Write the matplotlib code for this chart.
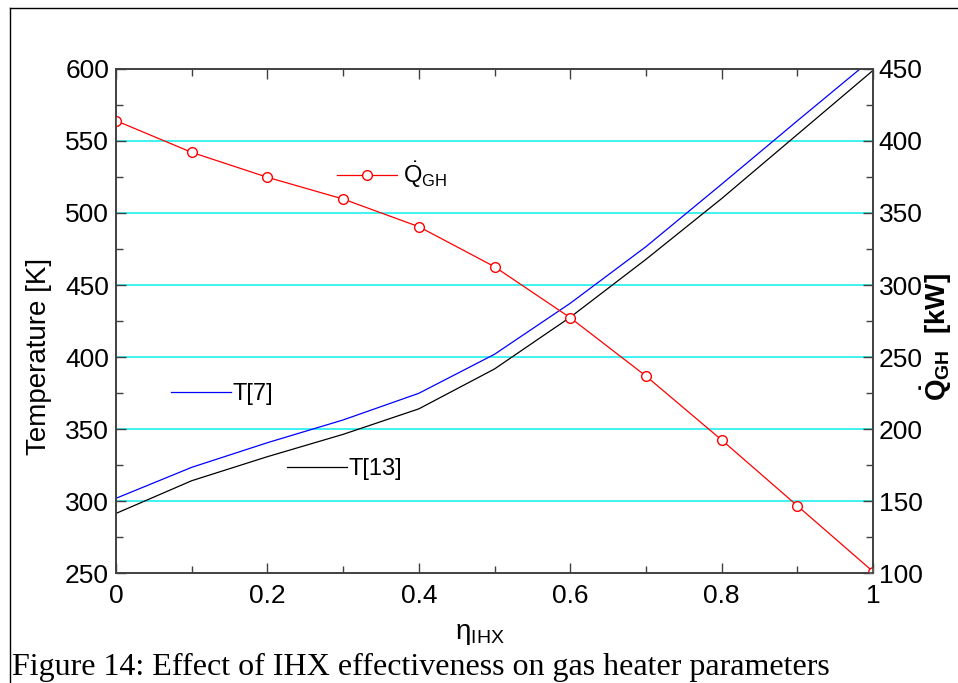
import matplotlib
matplotlib.use("Agg")
import matplotlib.pyplot as plt
from matplotlib.lines import Line2D
from matplotlib.ticker import MultipleLocator

plt.rcParams['font.family'] = ['Liberation Sans', 'DejaVu Sans']
plt.rcParams['mathtext.fontset'] = 'custom'
plt.rcParams['mathtext.rm'] = 'Liberation Sans'
plt.rcParams['mathtext.it'] = 'Liberation Sans:italic'
plt.rcParams['mathtext.bf'] = 'Liberation Sans:bold'

# IHX effectiveness
eta = [0.0, 0.1, 0.2, 0.3, 0.4, 0.5, 0.6, 0.7, 0.8, 0.9, 1.0]
# temperatures [K]
t7 = [301.9, 323.4, 340.5, 356.3, 374.8, 401.9, 437.3, 476.6, 520.0, 564.0, 607.5]
t13 = [291.4, 314.1, 330.8, 346.3, 364.0, 391.7, 427.6, 467.8, 510.0, 554.5, 599.0]
# gas heater duty [kW]
q_gh = [414.1, 392.1, 374.8, 359.7, 340.5, 312.7, 277.3, 236.8, 192.4, 146.7, 101.0]

xticks = [0, 0.2, 0.4, 0.6, 0.8, 1]
xticklabels = ['0', '0.2', '0.4', '0.6', '0.8', '1']

fig = plt.figure(figsize=(9.58, 6.83), dpi=100)
ax = fig.add_axes([0.1211, 0.161, 0.7902, 0.738])
ax2 = ax.twinx()

ax.set_xlim(0, 1)
ax.set_ylim(250, 600)
ax2.set_ylim(100, 450)

for y in range(300, 600, 50):
    ax.axhline(y, color='#33f0f0', lw=1.3, zorder=0)

l7, = ax.plot(eta, t7, color='#0000ff', lw=0.9)
l13, = ax.plot(eta, t13, color='black', lw=0.9)
lq, = ax2.plot(eta, q_gh, color='#ff0000', lw=0.9, marker='o', ms=7,
               mfc='white', mec='#ff0000', mew=1.0)

ax.set_xticks(xticks)
ax.set_xticklabels(xticklabels)
ax.xaxis.set_minor_locator(MultipleLocator(0.1))
ax.yaxis.set_major_locator(MultipleLocator(50))
ax.yaxis.set_minor_locator(MultipleLocator(25))
ax2.yaxis.set_major_locator(MultipleLocator(50))
ax2.yaxis.set_minor_locator(MultipleLocator(25))

ax.tick_params(which='both', direction='in', top=True, labelsize=19, pad=5,
               color='#404040', width=1.0)
ax.tick_params(axis='x', pad=8)
ax.tick_params(which='major', length=7)
ax.tick_params(which='minor', length=5)
ax2.tick_params(which='both', direction='in', labelsize=19, pad=4,
                color='#404040', width=1.0)
ax2.tick_params(which='major', length=7)
ax2.tick_params(which='minor', length=5)
for a in (ax, ax2):
    for s in a.spines.values():
        s.set_color('#404040')
        s.set_linewidth(1.2)

ax.set_ylabel('Temperature [K]', fontsize=20)
ax.yaxis.set_label_coords(-0.085, 0.43)
ax.set_xlabel('η$_{\\mathrm{IHX}}$', fontsize=20)
ax.xaxis.set_label_coords(0.48, -0.095)
ax2.set_ylabel('$\\mathbf{\\dot{Q}_{GH}}$  [kW]', fontsize=20, fontweight='bold')
ax2.yaxis.set_label_coords(1.06, 0.468)

leg_kw = dict(frameon=False, fontsize=17, handlelength=2.55,
              borderpad=0, borderaxespad=0, loc='center left')
leg1 = ax2.legend([lq], ['$\\dot{\\mathrm{Q}}_{\\mathrm{GH}}$'],
                  bbox_to_anchor=(0.292, 0.79), handletextpad=0.25, **leg_kw)
ax2.add_artist(leg1)
leg2 = ax2.legend([l7], ['T[7]'], bbox_to_anchor=(0.0727, 0.355),
                  handletextpad=0.05, **leg_kw)
ax2.add_artist(leg2)
leg3 = ax2.legend([l13], ['T[13]'], bbox_to_anchor=(0.226, 0.206),
                  handletextpad=0.05, **leg_kw)

# page frame around the figure
fig.add_artist(Line2D([10 / 958, 10 / 958], [0, 1 - 8 / 683], color='black', lw=1.0))
fig.add_artist(Line2D([10 / 958, 1], [1 - 8 / 683, 1 - 8 / 683], color='black', lw=1.0))

fig.text(12 / 958, 1 - 675 / 683,
         'Figure 14: Effect of IHX effectiveness on gas heater parameters',
         fontsize=23, family='Liberation Serif', va='baseline', ha='left')

fig.savefig('out.png', dpi=100)
